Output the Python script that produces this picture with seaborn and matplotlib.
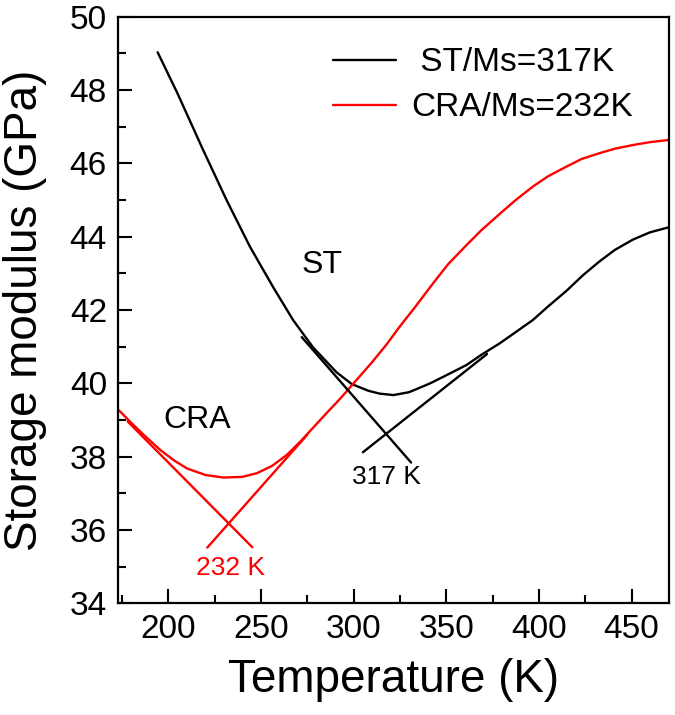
import matplotlib
matplotlib.use("Agg")
import matplotlib.pyplot as plt
from matplotlib.ticker import MultipleLocator
import numpy as np
import pandas as pd
import seaborn as sns

# Storage modulus curves (T in K, E in GPa)
st_temp = [194.2, 205, 218.8, 231.4, 244.0, 256.6, 267.4, 278.1, 290.8, 299.0,
           307.8, 314.0, 321.5, 330.0, 341.3, 350.0, 360.9, 369.0, 378.8, 387.0,
           396.8, 405.0, 414.8, 423.8, 432.8, 441.0, 450.7, 460.0, 470.4]
st_mod = [49.03, 47.90, 46.36, 45.00, 43.73, 42.62, 41.72, 40.98, 40.30, 39.98,
          39.80, 39.72, 39.68, 39.76, 40.00, 40.22, 40.50, 40.78, 41.09, 41.38,
          41.73, 42.10, 42.52, 42.95, 43.33, 43.64, 43.92, 44.12, 44.26]

cra_temp = [173.2, 180, 187, 195.7, 203, 210, 220, 229.8, 240, 247.8, 256, 264,
            271, 278.3, 285.6, 292.7, 301.7, 310, 317.9, 324.9, 333, 342.9, 351,
            360.9, 369, 378.8, 387, 396.8, 405, 414.8, 423, 432.8, 441, 450.7,
            460, 470.4]
cra_mod = [39.27, 38.92, 38.58, 38.18, 37.90, 37.68, 37.50, 37.43, 37.45, 37.55,
           37.75, 38.05, 38.40, 38.80, 39.20, 39.58, 40.10, 40.58, 41.07, 41.55,
           42.07, 42.73, 43.25, 43.77, 44.18, 44.62, 44.98, 45.37, 45.65, 45.91,
           46.12, 46.28, 46.40, 46.50, 46.58, 46.64]

# Tangent construction lines (end points)
st_tan1_temp, st_tan1_mod = [272, 331], [41.26, 37.84]
st_tan2_temp, st_tan2_mod = [305, 372], [38.12, 40.80]
cra_tan1_temp, cra_tan1_mod = [178, 245.3], [38.96, 35.53]
cra_tan2_temp, cra_tan2_mod = [221, 275], [35.52, 38.60]

labels = [" ST/Ms=317K", "CRA/Ms=232K"]
colors = ["black", "red"]

sns.set_theme(style="ticks")
plt.rcParams["font.family"] = ["Liberation Sans", "DejaVu Sans"]
plt.rcParams.update({
    "text.color": "black",
    "axes.labelcolor": "black",
    "axes.edgecolor": "black",
    "xtick.color": "black",
    "ytick.color": "black",
})

fig = plt.figure(figsize=(6.75, 7.15), dpi=100)
ax = fig.add_axes([0.1748, 0.1562, 0.8168, 0.8204])

df = pd.concat([
    pd.DataFrame({"T": st_temp, "E": st_mod, "sample": labels[0]}),
    pd.DataFrame({"T": cra_temp, "E": cra_mod, "sample": labels[1]}),
])
sns.lineplot(data=df, x="T", y="E", hue="sample", palette=colors, sort=False,
             estimator=None, linewidth=1.7, ax=ax)

for tx, ty, c in [(st_tan1_temp, st_tan1_mod, "black"), (st_tan2_temp, st_tan2_mod, "black"),
                  (cra_tan1_temp, cra_tan1_mod, "red"), (cra_tan2_temp, cra_tan2_mod, "red")]:
    ax.plot(tx, ty, color=c, linewidth=1.7)

ax.text(282.7, 43.23, "ST", fontsize=23, ha="center", va="center")
ax.text(215.4, 39.0, "CRA", fontsize=23, ha="center", va="center")
ax.text(317.6, 37.44, "317 K", fontsize=19, ha="center", va="center")
ax.text(233.4, 34.96, "232 K", fontsize=19, ha="center", va="center", color="red")

ax.set_xlim(172.8, 470.4)
ax.set_ylim(34, 50)
ax.xaxis.set_major_locator(MultipleLocator(50))
ax.xaxis.set_minor_locator(MultipleLocator(25))
ax.yaxis.set_major_locator(MultipleLocator(2))
ax.yaxis.set_minor_locator(MultipleLocator(1))
ax.tick_params(which="major", direction="in", length=10, width=1.5, labelsize=24, pad=8)
ax.tick_params(which="minor", direction="in", length=6, width=1.5)
for s in ax.spines.values():
    s.set_linewidth(1.6)
    s.set_visible(True)

ax.set_xlabel("Temperature (K)", fontsize=33, labelpad=9)
ax.set_ylabel("Storage modulus (GPa)", fontsize=33, labelpad=16)

leg = ax.legend(loc="upper left", bbox_to_anchor=(0.39, 0.948), frameon=False,
                fontsize=24, handlelength=1.9, handletextpad=0.45,
                labelspacing=0.42, borderpad=0, borderaxespad=0)
for line in leg.get_lines():
    line.set_linewidth(1.7)

fig.savefig("out.png", dpi=100)
